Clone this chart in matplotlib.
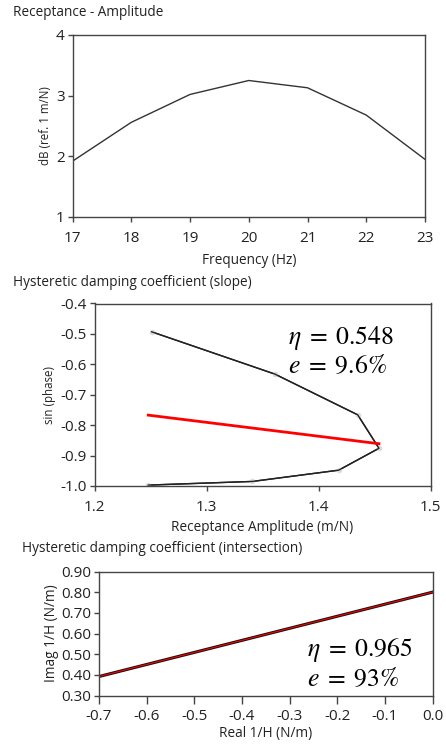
import matplotlib
matplotlib.use("Agg")
import matplotlib.pyplot as plt

plt.rcParams['font.family'] = ['Open Sans', 'DejaVu Sans']
plt.rcParams['mathtext.fontset'] = 'stix'

# receptance amplitude
freq = [17, 18, 19, 20, 21, 22, 23]
amp_db = [1.92, 2.56, 3.02, 3.25, 3.13, 2.68, 1.95]

# slope plot
rec_amp = [1.251, 1.361, 1.435, 1.454, 1.418, 1.341, 1.248]
sin_phase = [-0.493, -0.632, -0.766, -0.876, -0.948, -0.985, -0.997]
fit_x = [1.248, 1.454]
fit_y = [-0.767, -0.861]

# intersection plot
real_h = [-0.698, 0.0]
imag_h = [0.393, 0.800]

fig = plt.figure(figsize=(4.46, 7.44), dpi=100)
W, H = 446, 744

def add_ax(l, t, r, b):
    return fig.add_axes([l / W, 1 - b / H, (r - l) / W, (b - t) / H])

def style(ax):
    for s in ax.spines.values():
        s.set_color('#444444')
        s.set_linewidth(1)
    ax.tick_params(direction='out', length=3.5, width=1, color='#444444',
                   labelsize=11, labelcolor='#222222', pad=2)
    ax.tick_params(axis='x', pad=6.5)

TITLE = 9.8
XL = 9.8

# top
ax1 = add_ax(72.5, 35, 425, 217)
ax1.plot(freq, amp_db, color='#333333', lw=1)
ax1.set_xlim(17, 23)
ax1.set_ylim(1, 4)
ax1.set_xticks(freq)
ax1.set_yticks([1, 2, 3, 4])
ax1.set_xlabel('Frequency (Hz)', fontsize=XL, labelpad=5, color='#222222')
ax1.set_ylabel('dB (ref. 1 m/N)', fontsize=8.3, labelpad=3, color='#222222')
style(ax1)
fig.text(13 / W, 1 - 13 / H, 'Receptance - Amplitude', fontsize=TITLE,
         va='center', ha='left', color='#222222')

# middle
ax2 = add_ax(94.5, 303.5, 430.5, 486)
ax2.plot(rec_amp, sin_phase, color='#222222', lw=1, marker='o', ms=3,
         mfc='#dddddd', mec='#dddddd')
ax2.plot(rec_amp, sin_phase, color='#222222', lw=1)
ax2.plot(fit_x, fit_y, color='#ff0000', lw=2)
ax2.set_xlim(1.2, 1.5)
ax2.set_ylim(-1.0, -0.4)
ax2.set_xticks([1.2, 1.3, 1.4, 1.5])
ax2.set_xticklabels(['1.2', '1.3', '1.4', '1.5'])
ax2.set_yticks([-1.0, -0.9, -0.8, -0.7, -0.6, -0.5, -0.4])
ax2.set_yticklabels(['-1.0', '-0.9', '-0.8', '-0.7', '-0.6', '-0.5', '-0.4'])
ax2.set_xlabel('Receptance Amplitude (m/N)', fontsize=XL, labelpad=4, color='#222222')
ax2.set_ylabel('sin (phase)', fontsize=8.3, labelpad=3, color='#222222')
style(ax2)
ax2.text(288 / W, 1 - 338 / H, r'$\eta\;=\;0.548$', transform=fig.transFigure,
         fontsize=18.5, va='center', ha='left')
ax2.text(288 / W, 1 - 366 / H, r'$e\;=\;9.6\%$', transform=fig.transFigure,
         fontsize=18.5, va='center', ha='left')
fig.text(13 / W, 1 - 282 / H, 'Hysteretic damping coefficient (slope)', fontsize=TITLE,
         va='center', ha='left', color='#222222')

# bottom
ax3 = add_ax(99, 571.5, 432.5, 695.5)
ax3.plot(real_h, imag_h, color='#111111', lw=2.2)
ax3.plot(real_h, imag_h, color='#ff0000', lw=0.8)
ax3.set_xlim(-0.7, 0.0)
ax3.set_ylim(0.3, 0.9)
ax3.set_xticks([-0.7, -0.6, -0.5, -0.4, -0.3, -0.2, -0.1, 0.0])
ax3.set_xticklabels(['-0.7', '-0.6', '-0.5', '-0.4', '-0.3', '-0.2', '-0.1', '0.0'])
ax3.set_yticks([0.3, 0.4, 0.5, 0.6, 0.7, 0.8, 0.9])
ax3.set_yticklabels(['0.30', '0.40', '0.50', '0.60', '0.70', '0.80', '0.90'])
ax3.set_xlabel('Real 1/H (N/m)', fontsize=XL, labelpad=1.5, color='#222222')
ax3.set_ylabel('Imag 1/H (N/m)', fontsize=XL, labelpad=2, color='#222222')
style(ax3)
ax3.tick_params(axis='x', length=6, pad=4)
ax3.text(307 / W, 1 - 650 / H, r'$\eta\;=\;0.965$', transform=fig.transFigure,
         fontsize=18.5, va='center', ha='left')
ax3.text(307 / W, 1 - 679 / H, r'$e\;=\;93\%$', transform=fig.transFigure,
         fontsize=18.5, va='center', ha='left')
fig.text(22 / W, 1 - 549 / H, 'Hysteretic damping coefficient (intersection)', fontsize=TITLE,
         va='center', ha='left', color='#222222')

fig.savefig('out.png', dpi=100)
